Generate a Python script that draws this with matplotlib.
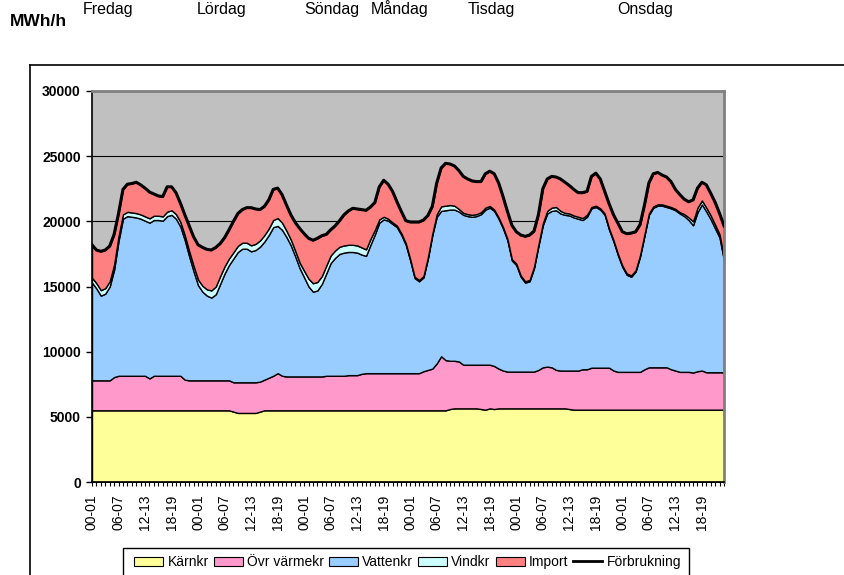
import matplotlib.pyplot as plt
from matplotlib.patches import Patch, Rectangle
from matplotlib.lines import Line2D

plt.rcParams['font.family'] = ['Liberation Sans', 'DejaVu Sans']

dagar = ['Fredag', 'Lördag', 'Söndag', 'Måndag', 'Tisdag', 'Onsdag']
timmar = ['00-01', '06-07', '12-13', '18-19']

# MWh/h per timme, en rad per dag
karnkr = [
    5500, 5500, 5500, 5500, 5500, 5500, 5500, 5500, 5500, 5500, 5500, 5500, 5500, 5500, 5500, 5500, 5500, 5500, 5500, 5500, 5500, 5500, 5500, 5500,
    5500, 5500, 5500, 5500, 5500, 5500, 5500, 5500, 5400, 5300, 5300, 5300, 5300, 5300, 5400, 5500, 5500, 5500, 5500, 5500, 5500, 5500, 5500, 5500,
    5500, 5500, 5500, 5500, 5500, 5500, 5500, 5500, 5500, 5500, 5500, 5500, 5500, 5500, 5500, 5500, 5500, 5500, 5500, 5500, 5500, 5500, 5500, 5500,
    5500, 5500, 5500, 5500, 5500, 5500, 5500, 5500, 5500, 5600, 5650, 5650, 5650, 5650, 5650, 5650, 5600, 5550, 5650, 5600, 5650, 5650, 5650, 5650,
    5650, 5650, 5650, 5650, 5650, 5650, 5650, 5650, 5650, 5650, 5650, 5650, 5600, 5550, 5550, 5550, 5550, 5550, 5550, 5550, 5550, 5550, 5550, 5550,
    5550, 5550, 5550, 5550, 5550, 5550, 5550, 5550, 5550, 5550, 5550, 5550, 5550, 5550, 5550, 5550, 5550, 5550, 5550, 5550, 5550, 5550, 5550, 5550,
]
ovr_varmekr = [
    2300, 2300, 2300, 2300, 2300, 2550, 2650, 2650, 2650, 2650, 2650, 2650, 2650, 2450, 2650, 2650, 2650, 2650, 2650, 2650, 2650, 2350, 2300, 2300,
    2300, 2300, 2300, 2300, 2300, 2300, 2300, 2300, 2250, 2350, 2350, 2350, 2350, 2350, 2300, 2350, 2500, 2650, 2850, 2650, 2600, 2600, 2600, 2600,
    2600, 2600, 2600, 2600, 2600, 2650, 2650, 2650, 2650, 2650, 2700, 2700, 2700, 2800, 2850, 2850, 2850, 2850, 2850, 2850, 2850, 2850, 2850, 2850,
    2850, 2850, 2850, 3000, 3100, 3200, 3600, 4150, 3850, 3700, 3650, 3600, 3350, 3350, 3350, 3350, 3400, 3450, 3350, 3300, 3050, 2900, 2820, 2820,
    2820, 2820, 2820, 2820, 2820, 2950, 3150, 3200, 3150, 2950, 2900, 2900, 2950, 3000, 3000, 3100, 3100, 3220, 3220, 3220, 3220, 3220, 3000, 2900,
    2900, 2900, 2900, 2900, 2900, 3100, 3250, 3250, 3250, 3250, 3250, 3100, 3000, 2900, 2900, 2900, 2850, 2950, 3000, 2870, 2870, 2870, 2870, 2870,
]
vattenkr = [
    7500, 7050, 6500, 6650, 7200, 8250, 10350, 12050, 12250, 12200, 12150, 12050, 11900, 11950, 11950, 11950, 11900, 12250, 12350, 12050, 11450, 10700, 9500, 8350,
    7300, 6800, 6500, 6350, 6600, 7400, 8200, 8850, 9500, 10000, 10250, 10250, 10050, 10150, 10350, 10600, 10950, 11400, 11300, 11200, 10700, 10050, 9200, 8300,
    7600, 6900, 6500, 6600, 7100, 7850, 8650, 9050, 9350, 9450, 9450, 9450, 9400, 9150, 9000, 9850, 10650, 11550, 11800, 11700, 11450, 11200, 10600, 9850,
    8650, 7300, 7050, 7200, 8550, 10250, 11250, 11150, 11500, 11600, 11600, 11500, 11500, 11400, 11350, 11400, 11550, 11900, 12050, 11900, 11500, 10900, 10080, 8530,
    8180, 7280, 6830, 6930, 7930, 9500, 10900, 11750, 12000, 12250, 12050, 11950, 11900, 11750, 11650, 11450, 11700, 12230, 12330, 12130, 11730, 10580, 9900, 8950,
    8050, 7450, 7300, 7700, 8850, 10250, 11700, 12250, 12400, 12400, 12300, 12350, 12300, 12150, 11950, 11650, 11300, 12200, 12750, 12330, 11730, 11030, 10330, 8580,
]
vindkr = [
    380, 400, 420, 420, 400, 380, 350, 330, 330, 330, 330, 330, 330, 330, 330, 330, 330, 340, 350, 350, 360, 380, 400, 420,
    430, 450, 480, 550, 600, 600, 550, 500, 480, 470, 460, 460, 460, 470, 480, 490, 500, 550, 600, 550, 480, 440, 420, 420,
    500, 600, 650, 650, 600, 600, 580, 560, 550, 550, 550, 550, 550, 550, 500, 450, 350, 250, 200, 150, 120, 120, 120, 120,
    100, 100, 100, 100, 100, 100, 200, 350, 350, 350, 300, 200, 150, 150, 150, 150, 150, 150, 130, 100, 100, 100, 100, 100,
    100, 100, 100, 100, 100, 100, 150, 200, 250, 250, 200, 150, 150, 150, 150, 150, 150, 100, 100, 100, 100, 100, 100, 100,
    100, 100, 100, 100, 100, 100, 100, 100, 100, 100, 100, 100, 100, 100, 150, 200, 300, 350, 300, 300, 300, 280, 250, 200,
]
import_ = [
    2520, 2550, 2980, 2930, 2700, 2320, 1750, 1920, 2120, 2220, 2370, 2270, 2170, 2020, 1670, 1520, 1520, 1910, 1800, 1650, 1440, 1570, 1950, 2230,
    2670, 2950, 3070, 3100, 3000, 2500, 2200, 2200, 2370, 2480, 2540, 2690, 2890, 2680, 2370, 2210, 2200, 2350, 2300, 2150, 1970, 1910, 2180, 2630,
    2850, 3100, 3300, 3350, 3100, 2400, 1970, 1890, 2000, 2350, 2600, 2800, 2800, 2900, 3000, 2450, 2100, 2500, 2800, 2650, 2380, 1830, 1680, 1730,
    2850, 4200, 4450, 4300, 3200, 2100, 2400, 2950, 3250, 3150, 3050, 2950, 2800, 2700, 2600, 2500, 2350, 2600, 2670, 2750, 2650, 2350, 2100, 2600,
    2450, 3100, 3450, 3450, 2750, 2300, 2650, 2450, 2400, 2300, 2450, 2350, 2150, 2000, 1850, 1950, 1800, 2350, 2500, 2250, 1700, 1900, 1950, 2350,
    2600, 3050, 3250, 2950, 2350, 2250, 2350, 2500, 2450, 2250, 2200, 1950, 1500, 1350, 1150, 1200, 1650, 1500, 1400, 1750, 1700, 1720, 1600, 2450,
]
forbrukning = [
    18200, 17800, 17700, 17800, 18100, 19000, 20600, 22450, 22850, 22900, 23000, 22800, 22550, 22250, 22100, 21950, 21900, 22650, 22650, 22200, 21400, 20500, 19650, 18800,
    18200, 18000, 17850, 17800, 18000, 18300, 18750, 19350, 20000, 20600, 20900, 21050, 21050, 20950, 20900, 21150, 21650, 22450, 22550, 22050, 21250, 20500, 19900, 19450,
    19050, 18700, 18550, 18700, 18900, 19000, 19350, 19650, 20050, 20500, 20800, 21000, 20950, 20900, 20850, 21100, 21450, 22650, 23150, 22850, 22300, 21500, 20750, 20050,
    19950, 19950, 19950, 20100, 20450, 21150, 22950, 24100, 24450, 24400, 24250, 23900, 23450, 23250, 23100, 23050, 23050, 23650, 23850, 23650, 22950, 21900, 20750, 19700,
    19200, 18950, 18850, 18950, 19250, 20500, 22500, 23250, 23450, 23400, 23250, 23000, 22750, 22450, 22200, 22200, 22300, 23450, 23700, 23250, 22300, 21350, 20500, 19850,
    19200, 19050, 19100, 19200, 19750, 21250, 22950, 23650, 23750, 23550, 23400, 23050, 22450, 22050, 21700, 21500, 21650, 22550, 23000, 22800, 22150, 21450, 20600, 19650,
]

namn = ['Kärnkr', 'Övr värmekr', 'Vattenkr', 'Vindkr', 'Import', 'Förbrukning']
farger = ['#FFFF99', '#FF99CC', '#99CCFF', '#CCFFFF', '#FF8080']

x = list(range(len(forbrukning)))
etiketter = []
for d in dagar:
    for h in range(24):
        etiketter.append(timmar[h // 6] if h % 6 == 0 else '')

W, H = 844, 575
fig = plt.figure(figsize=(W / 100, H / 100), dpi=100)
ax = fig.add_axes([92 / W, 1 - 482 / H, (724 - 92) / W, (482 - 91) / H])
ax.set_facecolor('#C0C0C0')

ax.stackplot(x, karnkr, ovr_varmekr, vattenkr, vindkr, import_, colors=farger,
             edgecolor='black', linewidth=1.0, zorder=2)
ax.plot(x, forbrukning, color='black', lw=2.2, zorder=3)

ax.set_xlim(0, len(x) - 1)
ax.set_ylim(0, 30000)
ax.set_yticks(range(0, 30001, 5000))
ax.set_yticklabels([str(v) for v in range(0, 30001, 5000)], fontweight='bold', fontsize=10)
ax.set_xticks(x)
ax.set_xticklabels(etiketter, rotation=90, fontsize=10)
ax.tick_params(axis='y', direction='out', length=4, width=1, pad=4)
ax.tick_params(axis='x', direction='out', length=3, width=0.8, pad=6)

ax.yaxis.grid(True, color='black', lw=0.8)
ax.set_axisbelow(True)
for s in ['top', 'right']:
    ax.spines[s].set_color('#808080')
    ax.spines[s].set_linewidth(2)
for s in ['left', 'bottom']:
    ax.spines[s].set_color('black')
    ax.spines[s].set_linewidth(1.2)

# yttre diagramram (beskuren nedtill och till höger)
fig.add_artist(Line2D([30 / W, 30 / W], [0, 1 - 65 / H], color='black', lw=1.2))
fig.add_artist(Line2D([30 / W, 1], [1 - 65 / H, 1 - 65 / H], color='black', lw=1.2))

fig.text(10 / W, 1 - 26 / H, 'MWh/h', fontsize=12.5, fontweight='bold', ha='left', va='baseline')
dag_x = [108, 222, 332, 400, 491, 645]
for d, px in zip(dagar, dag_x):
    fig.text(px / W, 1 - 14 / H, d, fontsize=11.5, ha='center', va='baseline')

handles = [Patch(facecolor=c, edgecolor='black', lw=0.8) for c in farger]
handles.append(Line2D([0], [0], color='black', lw=2))
fig.legend(handles, namn, loc='upper left', bbox_to_anchor=(123 / W, 1 - 544 / H), ncol=6,
           frameon=False, fontsize=10, handlelength=2.1, handleheight=0.6,
           handletextpad=0.3, columnspacing=0.35, borderpad=0.3)
fig.add_artist(Rectangle((123 / W, -0.05), (689 - 123) / W, 1 - 548 / H + 0.05,
                         fill=False, edgecolor='black', lw=1))

fig.savefig('out.png', dpi=100)
